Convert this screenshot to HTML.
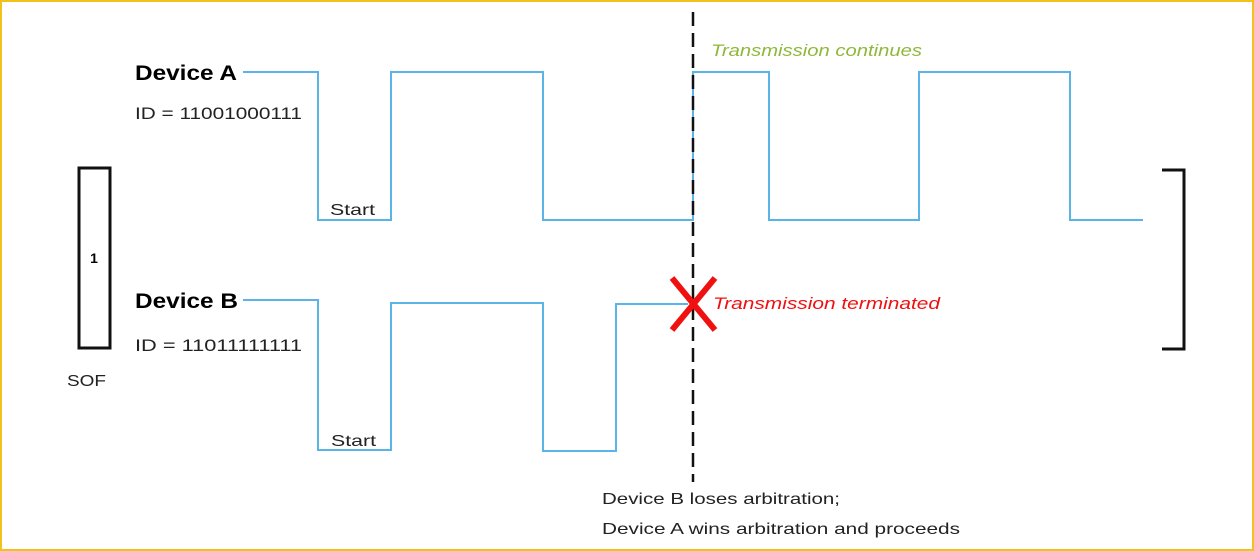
<!DOCTYPE html>
<html><head><style>
body{margin:0;background:#fff;}
svg{display:block;}
text{font-family:"Liberation Sans",sans-serif;}
</style></head><body>
<svg width="1254" height="551" viewBox="0 0 1254 551">
<rect x="1" y="1" width="1252" height="549" fill="#fff" stroke="#f2c11d" stroke-width="2"/>
<g fill="none" stroke="#5ab4e8" stroke-width="2">
<polyline points="243,72 318,72 318,220 391,220 391,72 543,72 543,220 693,220 693,72 769,72 769,220 919,220 919,72 1070,72 1070,220 1143,220"/>
<polyline points="243,300 318,300 318,450 391,450 391,303 543,303 543,451 616,451 616,304 688,304"/>
</g>
<line x1="693" y1="12" x2="693" y2="482" stroke="#111" stroke-width="2.5" stroke-dasharray="14,7"/>
<g stroke="#f01010" stroke-width="6" stroke-linecap="butt">
<line x1="672" y1="278" x2="715" y2="330"/>
<line x1="715" y1="278" x2="672" y2="330"/>
</g>
<rect x="79" y="168" width="31" height="180" fill="none" stroke="#111" stroke-width="3"/>
<text x="94" y="263" font-size="14" font-weight="bold" text-anchor="middle">1</text>
<text x="67" y="386" font-size="16" fill="#222" textLength="39" lengthAdjust="spacingAndGlyphs">SOF</text>
<text x="135" y="80" font-size="21" font-weight="bold" textLength="102" lengthAdjust="spacingAndGlyphs">Device A</text>
<text x="135" y="119" font-size="17" fill="#222" textLength="167" lengthAdjust="spacingAndGlyphs">ID = 11001000111</text>
<text x="135" y="308" font-size="21" font-weight="bold" textLength="103" lengthAdjust="spacingAndGlyphs">Device B</text>
<text x="135" y="351" font-size="17" fill="#222" textLength="167" lengthAdjust="spacingAndGlyphs">ID = 11011111111</text>
<text x="330" y="215" font-size="16" fill="#222" textLength="45" lengthAdjust="spacingAndGlyphs">Start</text>
<text x="331" y="446" font-size="16" fill="#222" textLength="45" lengthAdjust="spacingAndGlyphs">Start</text>
<text x="711" y="56" font-size="17" font-style="italic" fill="#8fb83a" textLength="211" lengthAdjust="spacingAndGlyphs">Transmission continues</text>
<text x="713" y="309" font-size="17" font-style="italic" fill="#f01010" textLength="227" lengthAdjust="spacingAndGlyphs">Transmission terminated</text>
<text x="602" y="504" font-size="16" fill="#222" textLength="238" lengthAdjust="spacingAndGlyphs">Device B loses arbitration;</text>
<text x="602" y="534" font-size="16" fill="#222" textLength="358" lengthAdjust="spacingAndGlyphs">Device A wins arbitration and proceeds</text>
<path d="M1162 170 H1184 V349 H1162" fill="none" stroke="#111" stroke-width="3"/>
</svg>
</body></html>
